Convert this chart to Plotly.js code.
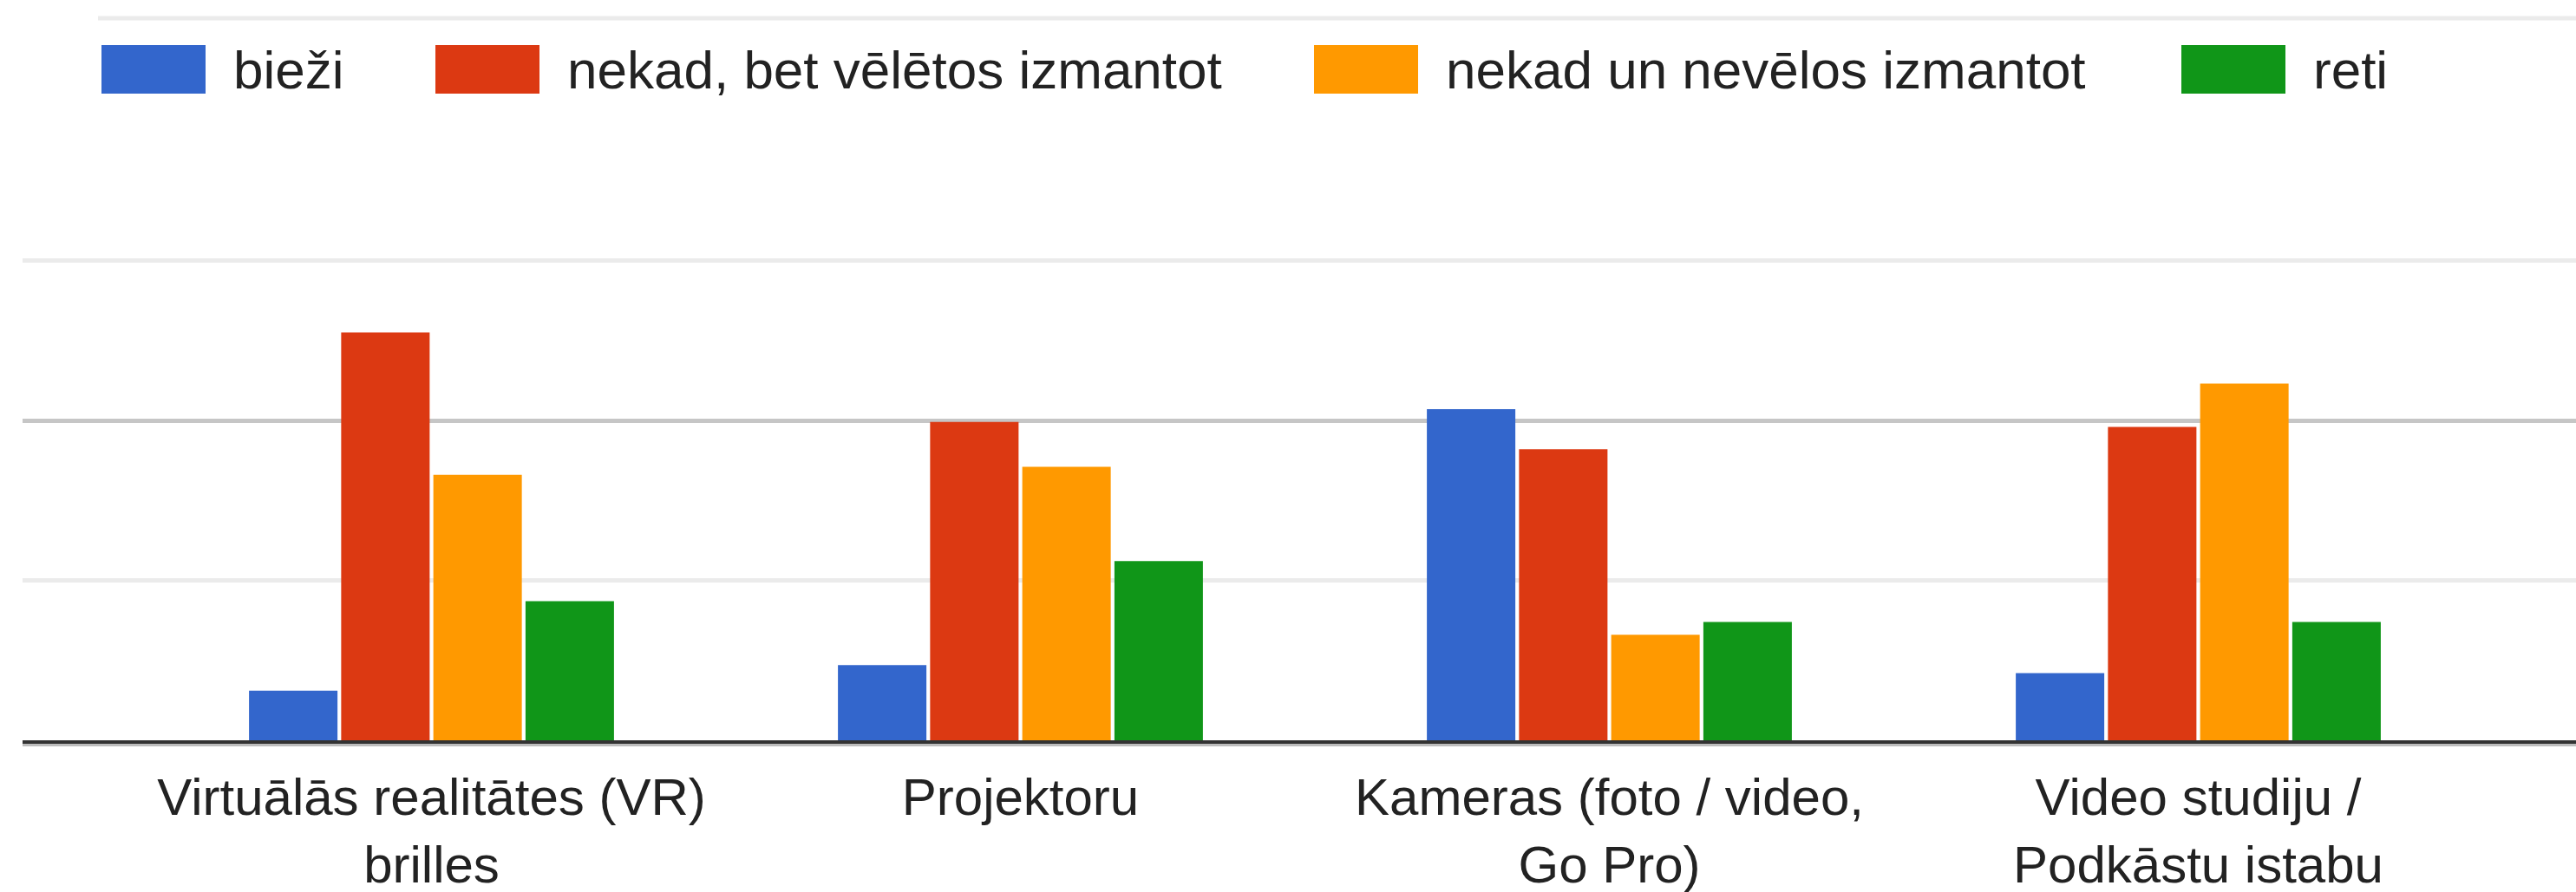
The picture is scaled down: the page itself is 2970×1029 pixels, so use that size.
<!DOCTYPE html>
<html>
<head>
<meta charset="utf-8">
<script src="https://cdn.plot.ly/plotly-3.0.1.min.js"></script>
<style>
  html, body { margin: 0; padding: 0; background: #ffffff; }
  #chart { width: 2970px; height: 1029px; }
</style>
</head>
<body>
<div id="chart"></div>
<script>
// ---- data ----
const categories = [
  "Virtuālās realitātes (VR) brilles",
  "Projektoru",
  "Kameras (foto / video, Go Pro)",
  "Video studiju / Podkāstu istabu"
];
const tickLabels = [
  "Virtuālās realitātes (VR)<br>brilles",
  "Projektoru",
  "Kameras (foto / video,<br>Go Pro)",
  "Video studiju /<br>Podkāstu istabu"
];
const seriesNames = ["bieži", "nekad, bet vēlētos izmantot", "nekad un nevēlos izmantot", "reti"];
const biezi   = [3.1, 4.7, 20.7, 4.2];
const nekadBetVeletos = [25.5, 19.9, 18.2, 19.6];
const nekadNevelos    = [16.6, 17.1, 6.6, 22.3];
const reti    = [8.7, 11.2, 7.4, 7.4];
const seriesValues = [biezi, nekadBetVeletos, nekadNevelos, reti];
const seriesColors = ["#3366cc", "#dc3912", "#ff9900", "#109618"];

// ---- layout geometry (pixels) ----
const W = 2970, H = 1029;
const M = { l: 26, r: 0, t: 280, b: 175 };
const plotW = W - M.l - M.r, plotH = H - M.t - M.b;
const px2x = p => (p - M.l) / plotW;
const px2y = p => (H - M.b - p) / plotH;

const FONT = "'Liberation Sans', Arial, sans-serif";

const traces = seriesNames.map((name, k) => ({
  type: "bar",
  name: name,
  x: categories,
  y: seriesValues[k],
  marker: { color: seriesColors[k], line: { width: 0 } },
  hoverinfo: "x+y+name",
  showlegend: false
}));

// custom legend (large swatches as in the reference)
const legendX = [117, 502, 1515, 2515];
const swW = 120, swTop = 52, swBot = 108, legendMid = 80, textOffset = 151;
const shapes = [];
const annotations = [];
seriesNames.forEach((name, k) => {
  shapes.push({
    type: "rect", xref: "paper", yref: "paper",
    x0: px2x(legendX[k]), x1: px2x(legendX[k] + swW),
    y0: px2y(swBot), y1: px2y(swTop),
    fillcolor: seriesColors[k], line: { width: 0 }
  });
  annotations.push({
    xref: "paper", yref: "paper",
    x: px2x(legendX[k] + textOffset), y: px2y(legendMid),
    xanchor: "left", yanchor: "middle",
    text: name, showarrow: false, borderpad: 0,
    font: { family: FONT, size: 62, color: "#222222" }
  });
});
// thin line at the very top
shapes.push({
  type: "line", xref: "paper", yref: "paper",
  x0: px2x(113), x1: 1, y0: px2y(21), y1: px2y(21),
  line: { color: "#ebebeb", width: 5 }
});
// light shadow under the baseline
shapes.push({
  type: "line", xref: "paper", yref: "paper",
  x0: 0, x1: 1, y0: px2y(859.5), y1: px2y(859.5),
  line: { color: "#bdbdbd", width: 3 }
});

const unitPx = 18.45;
const layout = {
  width: W, height: H,
  margin: { l: M.l, r: M.r, t: M.t, b: M.b, pad: 0 },
  paper_bgcolor: "#ffffff",
  plot_bgcolor: "#ffffff",
  barmode: "group",
  bargap: 0.374,
  bargroupgap: 0.04,
  showlegend: false,
  font: { family: FONT, color: "#222222" },
  xaxis: {
    type: "category",
    range: [(M.l - 497.5) / 679, (W - 497.5) / 679],
    tickvals: categories,
    ticktext: tickLabels,
    tickfont: { family: FONT, size: 60, color: "#222222" },
    ticks: "",
    showgrid: false,
    zeroline: false,
    showline: true,
    linecolor: "#333333",
    linewidth: 4,
    ticklabelstandoff: 10,
    fixedrange: true
  },
  yaxis: {
    range: [0, plotH / unitPx],
    dtick: 20,
    tick0: 0,
    showticklabels: false,
    ticks: "",
    showgrid: true,
    gridcolor: "#c6c6c6",
    gridwidth: 5,
    zeroline: false,
    showline: false,
    minor: { dtick: 10, tick0: 0, showgrid: true, gridcolor: "#ebebeb", gridwidth: 5, ticks: "" },
    fixedrange: true
  },
  shapes: shapes,
  annotations: annotations
};

Plotly.newPlot("chart", traces, layout, { displayModeBar: false, staticPlot: true });
</script>
</body>
</html>
